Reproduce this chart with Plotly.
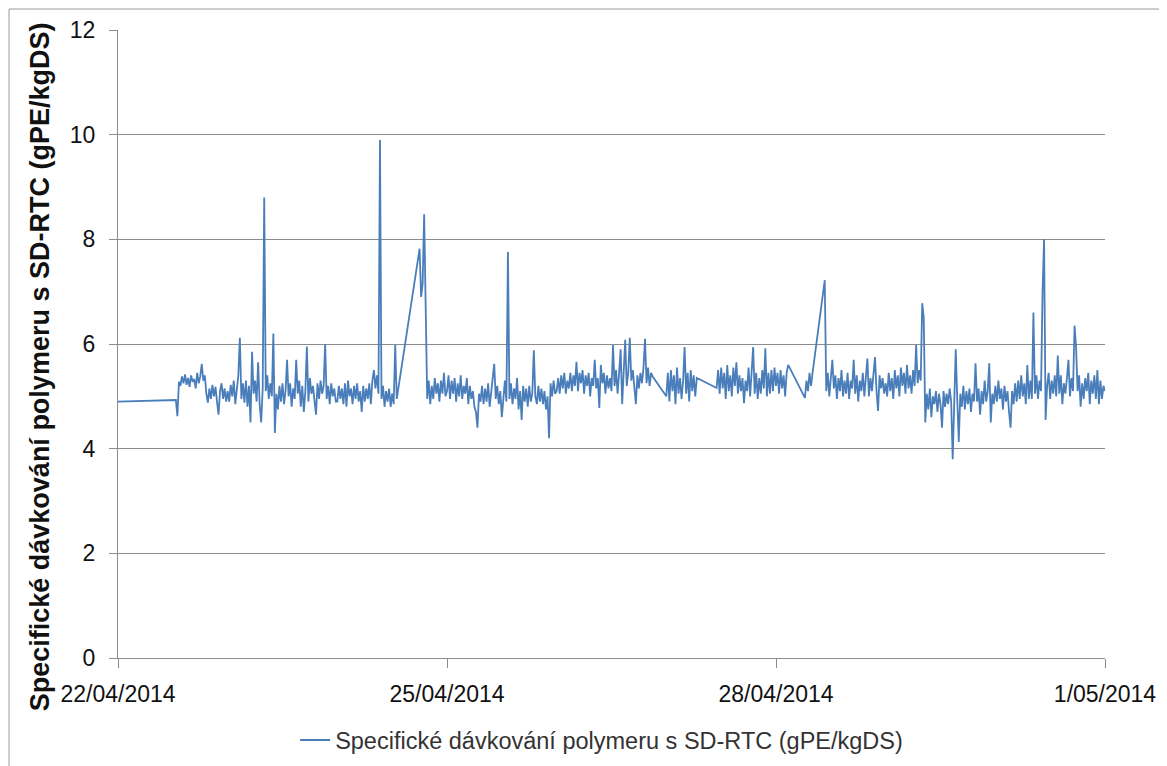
import plotly.graph_objects as go
import pandas as pd

START = "2014-04-22 00:00"
STEP_MIN = 20  # one reading every 20 minutes, None = missing reading (line bridges the gap)

d22 = [4.90] + [None]*37 + [4.93, 4.62,
       5.28, 5.20, 5.38, 5.25, 5.42, 5.22, 5.35, 5.18, 5.40, 5.28, 5.33, 5.15, 5.45, 5.25, 5.38, 5.62,
       5.30, 5.40, 5.05, 4.88, 5.15, 4.95, 5.22, 5.00, 5.18, 4.90, 4.65, 5.10, 5.25, 4.95, 5.15, 4.90]
d23 = [5.10, 4.90, 5.22, 5.00, 5.30, 4.85, 5.15, 5.40, 6.12, 4.95, 5.25, 4.88, 5.30, 4.80, 5.20, 4.50,
       5.85, 5.05, 5.30, 4.90, 5.65, 4.85, 4.50, 5.15, 8.80, 5.10, 5.40, 4.95, 5.25, 5.00, 6.20, 4.30,
       5.05, 4.75, 5.20, 4.90, 5.25, 4.85, 5.10, 5.70, 5.00, 5.25, 4.80, 5.15, 4.95, 5.70, 5.05, 5.30,
       4.80, 5.20, 4.70, 5.10, 5.95, 4.90, 5.35, 5.05, 5.20, 4.90, 4.65, 5.25, 4.95, 5.30, 5.05, 5.20,
       6.00, 4.95, 5.20, 4.85, 5.25, 5.00, 5.15, 4.90]
d24 = [4.90, 5.20, 4.95, 5.15, 4.85, 5.25, 4.80, 5.30, 5.00, 5.15, 4.85, 5.20, 4.95, 5.25, 4.90, 5.10,
       4.70, 5.20, 4.90, 5.15, 4.95, 5.25, 4.85, 5.30, 5.50, 5.15, 5.40, 5.05, 9.90, 4.95, 5.20, 4.80,
       5.10, 4.90, 5.15, 4.80, 5.05, 4.85, 5.98, 4.95] + [None]*14 + \
      [7.82, 6.90, 7.15, 8.48, 6.80, 4.95, 5.30, 4.85, 5.20, 4.95, 5.35, 5.05, 5.25, 4.90, 5.30, 5.05,
       5.45, 5.00]
d25 = [5.10, 5.40, 4.95, 5.30, 5.05, 5.35, 4.90, 5.25, 5.00, 5.40, 4.95, 5.20, 5.05, 5.35, 4.85, 5.20,
       4.95, 5.10, 4.80, 4.70, 4.40, 5.05, 4.90, 5.20, 4.85, 5.15, 4.90, 5.25, 4.80, 5.10, 5.30, 5.62,
       4.95, 5.20, 4.85, 5.10, 4.60, 5.05, 5.30, 4.90, 7.76, 4.95, 5.25, 4.85, 5.15, 4.95, 5.35, 4.75,
       5.10, 4.55, 5.20, 4.90, 5.15, 4.80, 5.20, 4.90, 5.05, 5.88, 5.00, 4.85, 5.20, 4.90, 5.15, 4.85,
       5.10, 4.75, 5.00, 4.20, 5.25, 5.00, 5.30, 5.05]
d26 = [5.10, 5.35, 5.05, 5.40, 5.15, 5.45, 5.05, 5.30, 5.15, 5.45, 5.10, 5.40, 5.20, 5.66, 5.10, 5.45,
       5.25, 5.50, 5.05, 5.40, 5.20, 5.45, 5.00, 5.35, 5.20, 5.70, 5.15, 5.35, 4.78, 5.60, 5.25, 5.45,
       5.05, 5.40, 5.15, 5.35, 5.10, 5.98, 5.20, 5.50, 5.05, 5.45, 5.90, 4.85, 5.35, 6.08, 5.20, 5.45,
       6.12, 5.30, 5.50, 5.10, 4.85, 5.40, 5.15, 5.45, 5.25, 5.55, 6.10, 5.25, 5.55, 5.20, 5.45, 5.38] + \
      [None]*8
d27 = [5.00, 5.45, 4.90, 5.50, 5.10, 5.40, 4.85, 5.55, 5.05, 5.35, 4.95, 5.30, 5.94, 5.05, 5.45, 4.90,
       5.50, 5.10, 5.40, 5.00, 5.35] + [None]*12 + \
      [5.16, 5.50, 5.05, 5.55, 5.15, 5.45, 4.95, 5.60, 5.10, 5.40, 5.00, 5.55, 5.20, 5.65, 5.05, 5.40,
       5.10, 5.35, 4.87, 5.30, 5.10, 5.55, 5.00, 5.40, 5.94, 5.05, 5.45, 4.95, 5.35, 5.05, 5.50, 5.15,
       5.92, 5.00, 5.45, 5.05, 5.50, 5.10, 5.55]
d28 = [5.20, 5.45, 5.05, 5.50, 5.15, 5.40, 5.00, 5.45, 5.60] + [None]*10 + \
      [4.97, 5.30, 5.10, 5.45, 5.20, 5.45] + [None]*7 + \
      [7.22, 5.10, 5.45, 5.00, 5.35, 5.70, 5.15, 5.40, 4.95, 5.35, 5.10, 5.50, 5.00, 5.30, 5.05, 5.45,
       4.95, 5.30, 5.15, 5.70, 5.05, 5.40, 4.90, 5.30, 5.10, 5.45, 5.00, 5.35, 5.72, 5.00, 5.35, 5.10,
       5.40, 5.75, 5.10, 4.72, 5.40, 5.15, 5.35, 5.05]
d29 = [5.25, 5.00, 5.45, 5.10, 5.35, 4.95, 5.50, 5.15, 5.40, 5.00, 5.55, 5.20, 5.45, 5.05, 5.60, 5.15,
       5.40, 5.05, 5.50, 5.20, 5.98, 5.25, 5.50, 5.30, 6.78, 6.50, 4.50, 5.05, 4.75, 5.15, 4.60, 5.00,
       4.85, 5.10, 4.70, 5.05, 4.85, 4.40, 5.10, 4.80, 5.05, 4.85, 5.15, 4.90, 3.80, 5.05, 5.90, 4.95,
       4.13, 5.05, 4.80, 5.20, 4.75, 5.10, 4.85, 5.15, 4.70, 5.05, 4.90, 5.63, 4.90, 5.15, 4.65, 5.10,
       4.85, 5.30, 4.90, 5.10, 5.63, 4.50, 5.05, 4.85]
d30 = [5.20, 4.90, 5.30, 4.95, 5.15, 4.75, 5.20, 4.90, 5.10, 4.70, 4.40, 5.10, 4.85, 5.25, 4.90, 5.30,
       4.95, 5.40, 5.00, 5.25, 4.85, 5.60, 4.95, 5.30, 4.95, 6.60, 5.05, 5.40, 4.95, 5.30, 5.10, 7.00,
       8.00, 4.55, 5.20, 5.45, 4.95, 5.30, 5.05, 5.40, 5.00, 5.78, 5.05, 5.40, 4.85, 5.25, 5.05, 5.35,
       5.70, 5.00, 5.35, 5.10, 6.35, 5.95, 5.10, 5.40, 4.80, 5.25, 4.95, 5.35, 5.10, 5.45, 4.85, 5.30,
       5.05, 5.40, 4.95, 5.50, 4.85, 5.30, 4.95, 5.20]
d01 = [5.10]

days = [d22, d23, d24, d25, d26, d27, d28, d29, d30, d01]

tick_vals = ["2014-04-22", "2014-04-25", "2014-04-28", "2014-05-01"]
tick_text = ["22/04/2014", "25/04/2014", "28/04/2014", "1/05/2014"]
y_ticks = [0, 2, 4, 6, 8, 10, 12]

series_name = "Specifické dávkování polymeru s SD-RTC (gPE/kgDS)"
y_title = "Specifické dávkování polymeru s SD-RTC (gPE/kgDS)"

t0 = pd.Timestamp(START)
xs, ys = [], []
for i, vals in enumerate(days):
    for k, v in enumerate(vals):
        xs.append(t0 + pd.Timedelta(days=i) + pd.Timedelta(minutes=STEP_MIN * k))
        ys.append(v)

LINE = "#4A7EBB"
GRID = "#8C8C8C"

fig = go.Figure()
fig.add_trace(go.Scatter(x=xs, y=ys, mode="lines", name=series_name,
                         line=dict(color=LINE, width=1.8), connectgaps=True))

fig.update_layout(
    width=1159, height=758,
    margin=dict(l=110, r=62, t=22, b=108),
    paper_bgcolor="white", plot_bgcolor="white",
    font=dict(family="Liberation Sans, Arial, sans-serif", size=23, color="#111"),
    showlegend=True,
    legend=dict(orientation="h", x=0.49, xanchor="center",
                yref="container", y=0.034, yanchor="middle",
                font=dict(size=23.5, color="#333"), itemwidth=30),
    xaxis=dict(type="date", range=["2014-04-22", "2014-05-01"],
               tickvals=tick_vals, ticktext=tick_text,
               showgrid=False, showline=True, linecolor=GRID, linewidth=1,
               ticks="outside", ticklen=9, tickcolor=GRID, ticklabelstandoff=6,
               zeroline=False, automargin=False),
    yaxis=dict(range=[0, 12], tickvals=y_ticks,
               showgrid=True, gridcolor=GRID, gridwidth=1,
               showline=True, linecolor=GRID, linewidth=1,
               ticks="outside", ticklen=8, tickcolor=GRID, ticklabelstandoff=9,
               zeroline=False, automargin=False),
    annotations=[dict(text=f"<b>{y_title}</b>", textangle=-90, xref="paper", yref="paper",
                      x=-0.079, y=0.463, xanchor="center", yanchor="middle", showarrow=False,
                      font=dict(size=27, color="#111"))],
    shapes=[dict(type="rect", xref="paper", yref="paper",
                 x0=-0.1104, x1=1.1, y0=-0.2, y1=1.0334,
                 line=dict(color="#9A9A9A", width=1), fillcolor="rgba(0,0,0,0)", layer="below")],
)

fig.write_html("out.html")
